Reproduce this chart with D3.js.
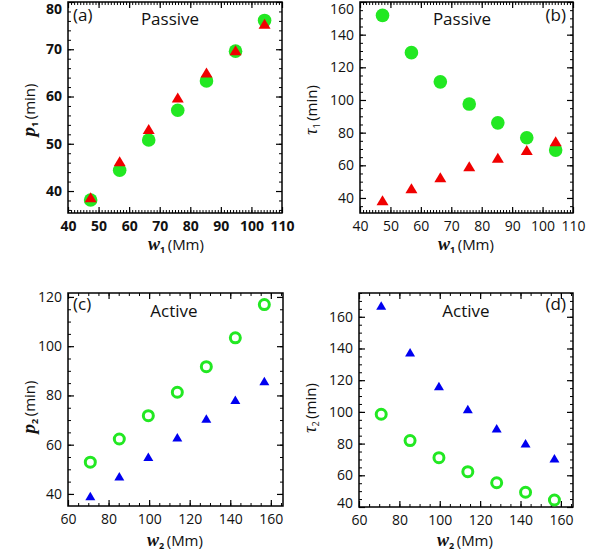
<!DOCTYPE html>
<html><head><meta charset="utf-8">
<script src="https://cdn.jsdelivr.net/npm/d3@7"></script>
<style>body{margin:0;background:#fff}svg{display:block}</style>
</head><body><svg id="c" width="592" height="554"></svg>
<script>
// ---- data ----
const w1 = [47.4, 56.9, 66.4, 75.9, 85.3, 94.8, 104.3];
const p1Circle = [38.1, 44.4, 50.8, 57.1, 63.3, 69.6, 76.1];
const p1Tri = [38.7, 46.3, 53.1, 59.8, 65.1, 69.8, 75.4];
const tau1Circle = [151.8, 129.0, 111.1, 97.5, 86.0, 76.9, 69.3];
const tau1Tri = [38.6, 46.0, 52.7, 59.4, 64.7, 69.4, 74.8];
const w2 = [71.0, 85.3, 99.6, 113.9, 128.2, 142.5, 156.8];
const p2Circle = [52.9, 62.3, 71.8, 81.3, 91.7, 103.4, 116.9];
const p2Tri = [39.2, 47.2, 55.1, 63.0, 70.6, 78.2, 85.9];
const tau2Circle = [98.5, 81.9, 71.1, 62.3, 55.3, 49.3, 44.4];
const tau2Tri = [167.1, 137.7, 116.4, 101.9, 89.7, 80.2, 70.7];
const xTicks1 = [40, 50, 60, 70, 80, 90, 100, 110];
const xTicks2 = [60, 80, 100, 120, 140, 160];
const yTicksA = [40, 50, 60, 70, 80];
const yTicksB = [40, 60, 80, 100, 120, 140, 160];
const yTicksC = [40, 60, 80, 100, 120];
const yTicksD = [40, 60, 80, 100, 120, 140, 160];

const GREEN = "#22e822", RED = "#f00000", BLUE = "#0000f0";
const svg = d3.select("#c");
const FONT = "'Open Sans', 'Noto Sans', sans-serif";

function range(a, b, s) { const r = []; for (let v = a; v <= b + 1e-9; v += s) r.push(+v.toFixed(6)); return r; }

function panel(cfg) {
  const x = d3.scaleLinear().domain(cfg.xd).range([cfg.l, cfg.r]);
  const y = d3.scaleLinear().domain(cfg.yd).range([cfg.b, cfg.t]);
  const g = svg.append("g");
  const xMinor = range(Math.ceil(cfg.xd[0] / cfg.xm) * cfg.xm, cfg.xd[1], cfg.xm);
  const yMinor = range(Math.ceil(cfg.yd[0] / cfg.ym) * cfg.ym, cfg.yd[1], cfg.ym);
  const fw = cfg.bold ? "bold" : "normal";
  // minor ticks
  const mk = (axis, tr) => g.append("g").attr("transform", tr).call(axis).call(s => { s.select(".domain").remove(); s.selectAll("line").attr("stroke", "#000").attr("stroke-width", 1); });
  mk(d3.axisBottom(x).tickValues(xMinor).tickSize(-3).tickFormat(""), `translate(0,${cfg.b})`);
  mk(d3.axisTop(x).tickValues(xMinor).tickSize(-3).tickFormat(""), `translate(0,${cfg.t})`);
  mk(d3.axisLeft(y).tickValues(yMinor).tickSize(-3).tickFormat(""), `translate(${cfg.l},0)`);
  mk(d3.axisRight(y).tickValues(yMinor).tickSize(-3).tickFormat(""), `translate(${cfg.r},0)`);
  // major ticks
  const styleAx = s => { s.select(".domain").remove(); s.selectAll("line").attr("stroke", "#000").attr("stroke-width", 1.2); s.selectAll("text").attr("font-family", FONT).attr("font-size", 14).attr("font-weight", fw).attr("fill", "#111"); };
  g.append("g").attr("transform", `translate(0,${cfg.b})`).call(d3.axisBottom(x).tickValues(cfg.xt).tickSize(-6).tickPadding(8).tickFormat(d3.format("d"))).call(styleAx);
  g.append("g").attr("transform", `translate(0,${cfg.t})`).call(d3.axisTop(x).tickValues(cfg.xt).tickSize(-6).tickFormat("")).call(styleAx);
  const yl = g.append("g").attr("transform", `translate(${cfg.l},0)`).call(d3.axisLeft(y).tickValues(cfg.yt).tickSize(-6).tickPadding(6).tickFormat(d3.format("d"))).call(styleAx);
  // keep edge labels inside the page / frame like the reference
  yl.selectAll(".tick").each(function (d) {
    const py = y(d), t = d3.select(this).select("text");
    if (py < 9) t.attr("y", 9 - py);
    if (py > cfg.b - 2) t.attr("y", -4);
  });
  g.append("g").attr("transform", `translate(${cfg.r},0)`).call(d3.axisRight(y).tickValues(cfg.yt).tickSize(-6).tickFormat("")).call(styleAx);
  // frame
  g.append("rect").attr("x", cfg.l).attr("y", cfg.t).attr("width", cfg.r - cfg.l).attr("height", cfg.b - cfg.t)
    .attr("fill", "none").attr("stroke", "#000").attr("stroke-width", 1.5);
  // marks
  const xs = cfg.xs;
  cfg.series.forEach(s => {
    const data = s.v.map((v, i) => [xs[i], v]);
    if (s.type === "dot") {
      g.append("g").selectAll("circle").data(data).join("circle")
        .attr("cx", d => x(d[0])).attr("cy", d => y(d[1])).attr("r", 6.8).attr("fill", GREEN);
    } else if (s.type === "ring") {
      g.append("g").selectAll("circle").data(data).join("circle")
        .attr("cx", d => x(d[0])).attr("cy", d => y(d[1])).attr("r", 5).attr("fill", "none")
        .attr("stroke", GREEN).attr("stroke-width", 3);
    } else {
      const w = s.w, h = s.h;
      g.append("g").selectAll("path").data(data).join("path")
        .attr("transform", d => `translate(${x(d[0])},${y(d[1])})`)
        .attr("d", `M0,${-h / 2}L${w / 2},${h / 2}L${-w / 2},${h / 2}Z`).attr("fill", s.color);
    }
  });
  // in-panel labels
  g.append("text").attr("x", cfg.tagX).attr("y", cfg.tagY).attr("text-anchor", cfg.tagAnchor)
    .attr("font-family", FONT).attr("font-size", 17).attr("fill", "#111").text(cfg.tag);
  g.append("text").attr("x", cfg.nameX).attr("y", cfg.nameY).attr("text-anchor", "middle")
    .attr("font-family", FONT).attr("font-size", 17).attr("fill", "#111").text(cfg.name);
  // x title
  const xt = g.append("text").attr("x", cfg.xtX).attr("y", cfg.xtY).attr("text-anchor", "middle")
    .attr("font-family", FONT).attr("font-size", 15).attr("fill", "#111");
  xt.append("tspan").attr("font-family", "'Liberation Serif', serif").attr("font-style", "italic").attr("font-weight", "bold").attr("font-size", 18).text("w");
  xt.append("tspan").attr("font-size", 9).attr("font-weight", "bold").attr("dy", 3).text(cfg.sub);
  xt.append("tspan").attr("dy", -3).text("\u2009(Mm)");
  // y title
  const yt = g.append("text").attr("transform", `translate(${cfg.ytX},${cfg.ytY}) rotate(-90)`).attr("text-anchor", "middle")
    .attr("font-family", FONT).attr("font-size", 15).attr("fill", "#111");
  if (cfg.ySym === "p") {
    yt.append("tspan").attr("font-family", "'Liberation Serif', serif").attr("font-style", "italic").attr("font-weight", "bold").attr("font-size", 19).text("p");
  } else {
    yt.append("tspan").attr("font-family", "'Liberation Serif', serif").attr("font-style", "italic").attr("font-size", 18).text("\u03C4");
  }
  yt.append("tspan").attr("font-size", 9).attr("font-weight", cfg.ySym === "p" ? "bold" : "normal").attr("dy", 3).text(cfg.sub);
  yt.append("tspan").attr("dy", -3).text("\u2009(min)");
}

panel({ l: 68, r: 282, t: 2, b: 213, xd: [40, 110], yd: [35.35, 80], xt: xTicks1, yt: yTicksA, xm: 1, ym: 2, bold: true,
  xs: w1, series: [{ type: "dot", v: p1Circle }, { type: "tri", v: p1Tri, color: RED, w: 12, h: 10 }],
  tag: "(a)", tagX: 73, tagY: 21, tagAnchor: "start", name: "Passive", nameX: 170, nameY: 25,
  xtX: 176, xtY: 250, sub: "1", ytX: 35, ytY: 110, ySym: "p" });
panel({ l: 360, r: 573, t: 2, b: 213, xd: [40, 110], yd: [30.8, 160], xt: xTicks1, yt: yTicksB, xm: 1, ym: 5, bold: false,
  xs: w1, series: [{ type: "dot", v: tau1Circle }, { type: "tri", v: tau1Tri, color: RED, w: 12, h: 10 }],
  tag: "(b)", tagX: 566, tagY: 21, tagAnchor: "end", name: "Passive", nameX: 462, nameY: 25,
  xtX: 466, xtY: 250, sub: "1", ytX: 317, ytY: 110, ySym: "t" });
panel({ l: 68, r: 283, t: 293, b: 506, xd: [60, 166], yd: [35.1, 121.6], xt: xTicks2, yt: yTicksC, xm: 5, ym: 5, bold: false,
  xs: w2, series: [{ type: "ring", v: p2Circle }, { type: "tri", v: p2Tri, color: BLUE, w: 10, h: 8.5 }],
  tag: "(c)", tagX: 73, tagY: 310, tagAnchor: "start", name: "Active", nameX: 174, nameY: 317,
  xtX: 175, xtY: 546, sub: "2", ytX: 35, ytY: 407, ySym: "p" });
panel({ l: 359, r: 573, t: 293, b: 507, xd: [60, 166], yd: [40, 175], xt: xTicks2, yt: yTicksD, xm: 5, ym: 5, bold: false,
  xs: w2, series: [{ type: "ring", v: tau2Circle }, { type: "tri", v: tau2Tri, color: BLUE, w: 10, h: 8.5 }],
  tag: "(d)", tagX: 566, tagY: 310, tagAnchor: "end", name: "Active", nameX: 466, nameY: 317,
  xtX: 465, xtY: 546, sub: "2", ytX: 316, ytY: 408, ySym: "t" });
</script></body></html>
